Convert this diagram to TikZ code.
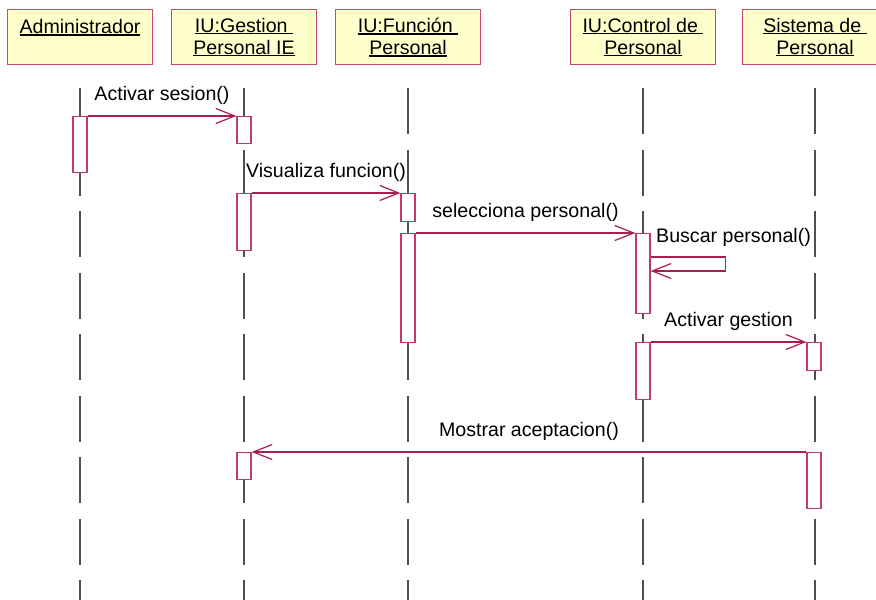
\documentclass[tikz,border=0pt]{standalone}
\usepackage{fontspec}
\setmainfont{Liberation Sans}
\usepackage{tikz}
\usetikzlibrary{arrows.meta}
\usepackage{xcolor}

\definecolor{headfill}{HTML}{FFFFCC}
\definecolor{headline}{HTML}{C4486A}
\definecolor{msgline}{HTML}{A81E4E}
\definecolor{actline}{HTML}{C03C66}
\definecolor{lifegray}{HTML}{505050}

\newcommand{\lbl}{\fontsize{19.6}{22}\selectfont}
\newcommand{\ulbox}[1]{\setbox0=\hbox{#1}\rlap{\rule[-2.2pt]{\wd0}{1.3pt}}\box0}

\begin{document}
\begin{tikzpicture}[
  x=1pt, y=-1pt,
  head/.style={draw=headline,fill=headfill,line width=1.4pt,anchor=north,align=center,
               minimum width=145pt,minimum height=55pt,inner sep=0pt,font=\lbl},
  act/.style={draw=actline,fill=white,line width=1.2pt,anchor=north,
              minimum width=14pt,inner sep=0pt},
  life/.style={draw=lifegray,line width=1.3pt,dash pattern=on 46pt off 15.5pt},
  arr/.style={draw=msgline,line width=1.2pt,-{Straight Barb[length=19pt,width=15pt]}},
  msg/.style={anchor=base,yshift=15.5pt,font=\lbl,inner sep=0pt}
]
  \clip (0,0) rectangle (876,600);
  \coordinate (bot) at (0,600);

  % objects
  \node[head] (adm) at (80,9) {\ulbox{Administrador}\\\mbox{}};
  \node[head] (gest) at (244,9) {\ulbox{IU:Gestion\ }\\\ulbox{Personal IE}};
  \node[head] (func) at (408,9) {\ulbox{IU:Función\ }\\\ulbox{Personal}};
  \node[head] (ctrl) at (643,9) {\ulbox{IU:Control de\ }\\\ulbox{Personal}};
  \node[head] (sis) at (815,9) {\ulbox{Sistema de\ }\\\ulbox{Personal}};

  % lifelines
  \foreach \o in {adm,gest,func,ctrl,sis}
    \draw[life] ([yshift=-23pt]\o.south) -- (\o.south |- bot);

  % activations
  \node[act,minimum height=56pt] (a1) at (80,116) {};
  \node[act,minimum height=27pt] (g1) at (244,116) {};
  \node[act,minimum height=57pt] (g2) at (244,193) {};
  \node[act,minimum height=28pt] (f1) at (408,193) {};
  \node[act,minimum height=109pt] (f2) at (408,233) {};
  \node[act,minimum height=80pt] (c1) at (643,233) {};
  \node[act,minimum height=57pt] (c2) at (643,342) {};
  \node[act,minimum height=28pt] (s1) at (814,342) {};
  \node[act,minimum height=27pt] (g3) at (244,452) {};
  \node[act,minimum height=56pt] (s2) at (814,452) {};

  % messages
  \draw[arr] (a1.north east) -- node[msg] {Activar sesion()} (g1.north west);
  \draw[arr] (g2.north east) -- node[msg] {Visualiza funcion()} (f1.north west);
  \draw[arr] (f2.north east) -- node[msg] {selecciona personal()} (c1.north west);
  \draw[arr] ([yshift=-24pt]c1.north east)
    node[anchor=base west,xshift=5pt,yshift=15pt,font=\lbl,inner sep=0pt] {Buscar personal()}
    -- ++(75,0) -- ++(0,14) -- ([yshift=-38pt]c1.north east);
  \draw[arr] (c2.north east) -- node[msg] {Activar gestion} (s1.north west);
  \draw[arr] (s2.north west) -- node[msg] {Mostrar aceptacion()} (g3.north east);
\end{tikzpicture}
\end{document}
